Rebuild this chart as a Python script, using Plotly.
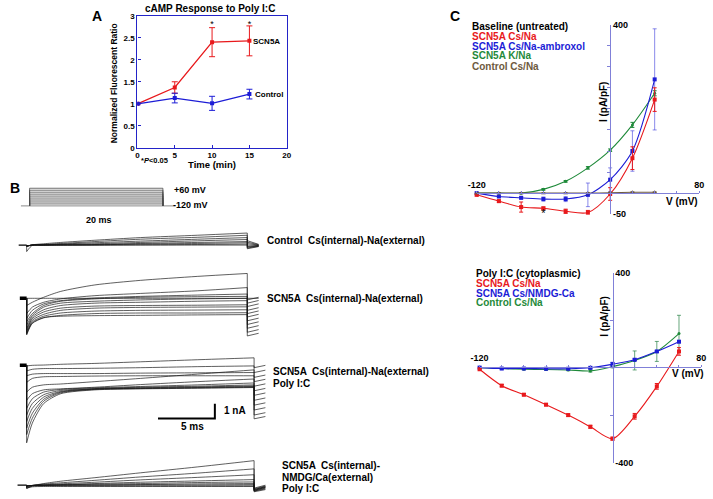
import plotly.graph_objects as go

W, H = 713, 499


def px(x):
    return x / W


def py(y):
    return 1 - y / H


# ---------------- Panel A: cAMP response ----------------
A_TIME = [0, 5, 10, 15]
A_SCN5A = [1.0, 1.37, 2.40, 2.43]
A_SCN5A_ERR = [0.02, 0.13, 0.33, 0.34]
A_CONTROL = [1.0, 1.13, 1.01, 1.22]
A_CONTROL_ERR = [0.02, 0.11, 0.16, 0.11]
A_SIG_TIME = [10, 15]
A_SIG_Y = [2.8, 2.8]

# ---------------- Panel C top: I-V ----------------
C1_V = [-120, -100, -80, -60, -40, -20, 0, 20, 40]
C1_SCN5A = [-4, -19, -33, -36, -43, -46, -2, 83, 222]
C1_SCN5A_ERR = [3, 3, 12, 3, 5, 5, 15, 27, 28]
C1_AMBROXOL = [0, -8, -11, -14, -14, -4, 32, 100, 270]
C1_AMBROXOL_ERR = [2, 2, 3, 5, 6, 28, 28, 48, 120]
C1_KNA = [0, 0, 0, 9, 28, 60, 102, 162, 237]
C1_KNA_ERR = [1, 1, 1, 2, 2, 3, 3, 6, 6]
C1_CONTROL = [0, 0, 0, 0, 0, 0, 1, 2, 2]
C1_CONTROL_ERR = [1, 1, 1, 1, 1, 1, 1, 1, 1]
C1_SIG_V = [-60, -40, -20]
C1_SIG_Y = [-50, -60, -64]

# ---------------- Panel C bottom: I-V after Poly I:C ----------------
C2_V = [-120, -100, -80, -60, -40, -20, 0, 20, 40, 60]
C2_SCN5A = [-7, -76, -114, -156, -200, -249, -299, -205, -79, 68]
C2_SCN5A_ERR = [3, 5, 5, 5, 5, 6, 6, 12, 12, 16]
C2_NMDG = [0, -4, -4, -5, -5, -1, 14, 33, 68, 109]
C2_NMDG_ERR = [2, 2, 2, 2, 2, 3, 8, 4, 4, 4]
C2_CONTROL = [0, -4, -7, -8, -10, -14, 4, 30, 68, 143]
C2_CONTROL_ERR = [2, 2, 2, 2, 3, 5, 5, 40, 42, 77]

# ---------------- Panel B: voltage protocol ----------------
B_PROTO_HOLD = -120
B_PROTO_LEVELS = [-100, -80, -60, -40, -20, 0, 20, 40, 60]
B_PROTO_T = [-1.3, 0, 20, 21.9]

# ---------------- Panel B: current traces (ms, nA) ----------------
B_CTRL_T = [0, 0.5, 1.5, 3, 6, 10, 15, 19.4]
B_CTRL_I = [
    [-0.07, 0.02, 0.09, 0.18, 0.33, 0.51, 0.67, 0.82],
    [-0.07, 0.00, 0.04, 0.11, 0.24, 0.40, 0.53, 0.67],
    [-0.07, 0.00, 0.02, 0.07, 0.16, 0.27, 0.40, 0.51],
    [-0.07, 0.00, 0.00, 0.04, 0.09, 0.18, 0.29, 0.38],
    [-0.07, 0.00, 0.00, 0.02, 0.04, 0.11, 0.18, 0.24],
    [-0.07, 0.00, 0.00, 0.00, 0.02, 0.07, 0.11, 0.16],
    [-0.07, 0.00, 0.00, 0.00, 0.00, 0.02, 0.04, 0.07],
    [-0.44, -0.02, 0.00, 0.00, 0.00, 0.00, 0.00, 0.00],
]
B_CTRL_TAIL = [[0.3, 0.05], [0.2, 0.02], [0.1, 0.0], [0.0, -0.03],
               [-0.1, -0.05], [-0.15, -0.05], [-0.2, -0.08], [-0.25, -0.1]]

B_NA_T = [0, 0.5, 1.5, 3, 6, 10, 15, 19.4]
B_NA_I = [
    [0.00, 0.00, 0.00, 0.00, 0.00, 0.00, 0.00, 0.00],
    [-0.49, -0.27, 0.07, 0.47, 0.91, 1.22, 1.49, 1.69],
    [-1.04, -0.60, -0.27, -0.04, 0.18, 0.33, 0.51, 0.73],
    [-1.38, -0.82, -0.38, -0.16, 0.02, 0.13, 0.22, 0.29],
    [-1.60, -1.04, -0.49, -0.20, -0.04, 0.07, 0.11, 0.13],
    [-1.82, -1.16, -0.60, -0.33, -0.20, -0.11, -0.04, 0.00],
    [-2.04, -1.27, -0.78, -0.49, -0.33, -0.27, -0.20, -0.16],
    [-2.16, -1.38, -0.93, -0.67, -0.53, -0.49, -0.47, -0.44],
    [-2.27, -1.49, -1.09, -0.82, -0.67, -0.62, -0.60, -0.58],
    [-2.38, -1.60, -1.22, -1.00, -0.87, -0.82, -0.80, -0.78],
    [-2.49, -1.71, -1.33, -1.16, -1.04, -1.00, -1.00, -0.98],
    [-2.42, -1.67, -1.31, -1.22, -1.18, -1.16, -1.13, -1.11],
]
B_NA_TAIL = [[0, 0], [-0.11, 0.07], [-0.33, -0.15], [-0.56, -0.38], [-0.82, -0.64],
             [-1.04, -0.86], [-1.27, -1.09], [-1.53, -1.35], [-1.78, -1.6],
             [-2.04, -1.86], [-2.31, -2.13], [-2.56, -2.38]]

B_PIC_T = [0, 0.5, 1.5, 3, 6, 10, 15, 20]
B_PIC_I = [
    [-0.04, 0.00, 0.02, 0.07, 0.13, 0.24, 0.38, 0.51],
    [-0.38, -0.27, -0.22, -0.22, -0.20, -0.16, -0.09, -0.04],
    [-0.71, -0.60, -0.56, -0.56, -0.56, -0.53, -0.51, -0.49],
    [-1.16, -0.89, -0.78, -0.76, -0.73, -0.71, -0.71, -0.71],
    [-1.82, -1.49, -1.33, -1.27, -1.11, -0.89, -0.60, -0.31],
    [-2.38, -1.93, -1.67, -1.60, -1.49, -1.31, -1.11, -0.93],
    [-2.93, -2.27, -1.82, -1.64, -1.53, -1.44, -1.33, -1.20],
    [-3.38, -2.60, -2.00, -1.71, -1.58, -1.49, -1.42, -1.33],
    [-3.82, -2.93, -2.16, -1.78, -1.60, -1.53, -1.47, -1.40],
    [-4.27, -3.27, -2.31, -1.82, -1.62, -1.56, -1.51, -1.44],
    [-4.71, -3.60, -2.44, -1.87, -1.64, -1.58, -1.53, -1.49],
    [-5.27, -3.93, -2.60, -1.93, -1.67, -1.60, -1.56, -1.51],
]
B_PIC_TAIL = [[-0.16, 0.0], [-0.49, -0.33], [-0.82, -0.66], [-1.11, -0.95],
              [-1.42, -1.26], [-1.73, -1.57], [-2.04, -1.88], [-2.38, -2.22],
              [-2.71, -2.55], [-3.04, -2.88], [-3.38, -3.22], [-3.64, -3.48]]

B_NMDG_T = [0, 0.5, 1.5, 3, 6, 10, 15, 20]
B_NMDG_I = [
    [-0.04, -0.02, 0.11, 0.27, 0.51, 0.84, 1.24, 1.67],
    [-0.04, -0.02, 0.07, 0.16, 0.33, 0.56, 0.82, 1.11],
    [-0.04, -0.02, 0.02, 0.09, 0.20, 0.36, 0.53, 0.71],
    [-0.04, -0.02, 0.00, 0.04, 0.11, 0.20, 0.29, 0.38],
    [-0.11, -0.02, 0.00, 0.02, 0.07, 0.11, 0.18, 0.22],
    [-0.11, -0.02, 0.00, 0.00, 0.02, 0.04, 0.09, 0.11],
    [-0.20, -0.04, -0.02, 0.00, 0.00, 0.02, 0.02, 0.04],
    [-0.22, -0.07, -0.04, -0.04, -0.04, -0.04, -0.04, -0.04],
    [-0.20, -0.11, -0.09, -0.09, -0.09, -0.09, -0.09, -0.09],
]
B_NMDG_TAIL = [[-0.2, 0.0], [-0.25, -0.05], [-0.3, -0.1], [-0.3, -0.1], [-0.35, -0.15],
               [-0.35, -0.15], [-0.4, -0.2], [-0.4, -0.25], [-0.45, -0.3]]

B_SCALE_MS = 5
B_SCALE_NA = 1

# ---------------- colours ----------------
RED = "#e8191c"
BLUE = "#1c1cd6"
GREEN = "#1f8a3a"
BROWN = "#6e5a40"
AXIS_A = "#2323c8"
AXIS_C = "#8080d8"
TRACE = "rgba(20,20,20,0.85)"
FONT = "Liberation Sans, Arial, sans-serif"

fig = go.Figure()

# ---------- Panel A ----------
fig.add_trace(go.Scatter(
    x=A_TIME, y=A_SCN5A, mode="lines+markers", xaxis="x", yaxis="y",
    line=dict(color=RED, width=1.3), marker=dict(color=RED, size=4, symbol="square"),
    error_y=dict(type="data", array=A_SCN5A_ERR, color=RED, thickness=1, width=3)))
fig.add_trace(go.Scatter(
    x=A_TIME, y=A_CONTROL, mode="lines+markers", xaxis="x", yaxis="y",
    line=dict(color=BLUE, width=1.3), marker=dict(color=BLUE, size=4, symbol="square"),
    error_y=dict(type="data", array=A_CONTROL_ERR, color=BLUE, thickness=1, width=3)))
fig.add_trace(go.Scatter(
    x=A_SIG_TIME, y=A_SIG_Y, mode="text", text=["*"] * len(A_SIG_TIME), xaxis="x", yaxis="y",
    textfont=dict(size=9, color="black", family=FONT), cliponaxis=False))


# ---------- Panel C helpers ----------
def iv_trace(xv, yv, err, color, symbol, size, xa, ya, err_color=None):
    return go.Scatter(
        x=xv, y=yv, mode="lines+markers", xaxis=xa, yaxis=ya, cliponaxis=False,
        line=dict(color=color, width=1.1, shape="spline", smoothing=0.8),
        marker=dict(color=color, size=size, symbol=symbol),
        error_y=dict(type="data", array=err, color=err_color or color, thickness=1, width=2))


fig.add_trace(iv_trace(C1_V, C1_KNA, C1_KNA_ERR, GREEN, "circle", 3, "x2", "y2"))
fig.add_trace(iv_trace(C1_V, C1_AMBROXOL, C1_AMBROXOL_ERR, BLUE, "square", 4, "x2", "y2",
                       err_color="rgba(60,60,220,0.6)"))
fig.add_trace(iv_trace(C1_V, C1_SCN5A, C1_SCN5A_ERR, RED, "square", 4, "x2", "y2"))
fig.add_trace(iv_trace(C1_V, C1_CONTROL, C1_CONTROL_ERR, BROWN, "triangle-up", 4, "x2", "y2"))
fig.add_trace(go.Scatter(
    x=C1_SIG_V, y=C1_SIG_Y, mode="text", text=["*"] * len(C1_SIG_V), xaxis="x2", yaxis="y2",
    textfont=dict(size=11, color="black", family=FONT), cliponaxis=False))

fig.add_trace(iv_trace(C2_V, C2_CONTROL, C2_CONTROL_ERR, GREEN, "circle", 3, "x3", "y3",
                       err_color="rgba(40,130,70,0.7)"))
fig.add_trace(iv_trace(C2_V, C2_NMDG, C2_NMDG_ERR, BLUE, "square", 4, "x3", "y3"))
fig.add_trace(iv_trace(C2_V, C2_SCN5A, C2_SCN5A_ERR, RED, "square", 4, "x3", "y3"))

# ---------- Panel B: protocol ----------
t0, t_on, t_off, t1 = B_PROTO_T
fig.add_trace(go.Scatter(x=[t0, t1], y=[B_PROTO_HOLD, B_PROTO_HOLD], mode="lines",
                         xaxis="x4", yaxis="y4", line=dict(color="#8a8a8a", width=1)))
sx, sy = [], []
for lv in B_PROTO_LEVELS:
    sx += [t_on, t_on, t_off, t_off, None]
    sy += [B_PROTO_HOLD, lv, lv, B_PROTO_HOLD, None]
fig.add_trace(go.Scatter(x=sx, y=sy, mode="lines", xaxis="x4", yaxis="y4",
                         line=dict(color="#4a4a4a", width=0.8)))


# ---------- Panel B: current traces ----------
def add_group(t, curves, tails, xa, ya, hold_t, hold_w, tail_dt=1.0):
    cx, cy, ex, ey = [], [], [], []
    t_end = t[-1]
    for c, (ta, tb) in zip(curves, tails):
        cx += list(t) + [None]
        cy += list(c) + [None]
        ex += [0, 0, None, t_end, t_end, t_end + tail_dt, None]
        ey += [0, c[0], None, c[-1], ta, tb, None]
    fig.add_trace(go.Scatter(x=[hold_t, 0], y=[0, 0], mode="lines", xaxis=xa, yaxis=ya,
                             line=dict(color="black", width=hold_w)))
    fig.add_trace(go.Scatter(x=cx, y=cy, mode="lines", xaxis=xa, yaxis=ya,
                             line=dict(color=TRACE, width=0.8, shape="spline", smoothing=0.7)))
    fig.add_trace(go.Scatter(x=ex, y=ey, mode="lines", xaxis=xa, yaxis=ya,
                             line=dict(color=TRACE, width=0.8)))


add_group(B_CTRL_T, B_CTRL_I, B_CTRL_TAIL, "x5", "y5", -0.7, 1.2)
add_group(B_NA_T, B_NA_I, B_NA_TAIL, "x6", "y6", -0.6, 3.5)
add_group(B_PIC_T, B_PIC_I, B_PIC_TAIL, "x7", "y7", -0.6, 3.5)
add_group(B_NMDG_T, B_NMDG_I, B_NMDG_TAIL, "x8", "y8", -0.8, 1.2)

# scale bar (in Poly I:C group coordinates)
sb_t0, sb_y0 = 11.55, -3.62
fig.add_trace(go.Scatter(
    x=[sb_t0, sb_t0 + B_SCALE_MS, sb_t0 + B_SCALE_MS],
    y=[sb_y0, sb_y0, sb_y0 + B_SCALE_NA], mode="lines", xaxis="x7", yaxis="y7",
    line=dict(color="black", width=2)))

# ---------- axes ----------
hidden = dict(visible=False, showgrid=False, zeroline=False)
B_X = dict(hidden, domain=[0, px(262)], range=[-18 / 11.6, (262 - 18) / 11.6])


def b_y(top, bottom, base):
    return dict(hidden, domain=[py(bottom), py(top)],
                range=[-(bottom - base) / 15, (base - top) / 15])


tickA = dict(size=8, family=FONT, color="black", weight="bold")
tickC = dict(size=9, family=FONT, color="black", weight="bold")

c_xvals = list(range(-120, 81, 20))
c_xtext = ["-120"] + [""] * (len(c_xvals) - 2) + ["80"]

layout = dict(
    width=W, height=H, autosize=False,
    margin=dict(l=0, r=0, t=0, b=0, pad=0),
    paper_bgcolor="white", plot_bgcolor="rgba(0,0,0,0)",
    showlegend=False,
    font=dict(family=FONT, color="black"),
    xaxis=dict(domain=[px(131), px(283.3)], range=[0, 20], anchor="y",
               showline=True, mirror=True, linecolor=AXIS_A, linewidth=1.2,
               ticks="inside", ticklen=3, tickcolor=AXIS_A, tickvals=[0, 5, 10, 15, 20],
               tickfont=tickA, showgrid=False, zeroline=False),
    yaxis=dict(domain=[py(145.7), py(11)], range=[0, 3], anchor="x",
               showline=True, mirror=True, linecolor=AXIS_A, linewidth=1.2,
               ticks="inside", ticklen=3, tickcolor=AXIS_A, tickvals=[0, 0.5, 1, 1.5, 2, 2.5, 3],
               tickfont=tickA, showgrid=False, zeroline=False),
    xaxis2=dict(domain=[px(477), px(704)], range=[-120, 80], anchor="free", position=py(192),
                side="top", showline=True, linecolor=AXIS_C, linewidth=1,
                ticks="outside", ticklen=2, tickcolor=AXIS_C, tickvals=c_xvals, ticktext=c_xtext,
                tickfont=tickC, showgrid=False, zeroline=False),
    yaxis2=dict(domain=[py(213.5), py(20)], range=[-50, 400], anchor="free", position=px(613.2),
                side="right", showline=True, linecolor=AXIS_C, linewidth=1,
                ticks="inside", ticklen=3, tickcolor=AXIS_C, tickvals=list(range(-50, 401, 50)),
                ticktext=["-50"] + [""] * 8 + ["400"], tickfont=tickC,
                showgrid=False, zeroline=False),
    xaxis3=dict(domain=[px(480), px(706)], range=[-120, 80], anchor="free", position=py(369.5),
                side="top", showline=True, linecolor=AXIS_C, linewidth=1,
                ticks="outside", ticklen=2, tickcolor=AXIS_C, tickvals=c_xvals, ticktext=c_xtext,
                tickfont=tickC, showgrid=False, zeroline=False),
    yaxis3=dict(domain=[py(467), py(273)], range=[-400, 400], anchor="free", position=px(615.6),
                side="right", showline=True, linecolor=AXIS_C, linewidth=1,
                ticks="inside", ticklen=3, tickcolor=AXIS_C, tickvals=[-400, -200, 0, 200, 400],
                ticktext=["-400", "", "", "", "400"], tickfont=tickC,
                showgrid=False, zeroline=False),
    xaxis4=dict(hidden, domain=[0, px(200)], range=[-21 / 6.8, (200 - 21) / 6.8], anchor="y4"),
    yaxis4=dict(hidden, domain=[py(210), py(180)], range=[-170, 130], anchor="x4"),
    xaxis5=dict(B_X, anchor="y5"), yaxis5=dict(b_y(222, 262, 245), anchor="x5"),
    xaxis6=dict(B_X, anchor="y6"), yaxis6=dict(b_y(268, 346, 299.3), anchor="x6"),
    xaxis7=dict(B_X, anchor="y7"), yaxis7=dict(b_y(350, 455, 367.7), anchor="x7"),
    xaxis8=dict(B_X, anchor="y8"), yaxis8=dict(b_y(455, 499, 490), anchor="x8"),
)
fig.update_layout(**layout)


def note(x, y, text, size=10, color="black", xanchor="left", angle=0):
    fig.add_annotation(x=px(x), y=py(y), xref="paper", yref="paper", text=text,
                       showarrow=False, xanchor=xanchor, yanchor="middle", textangle=angle,
                       borderpad=0, font=dict(size=size, color=color, family=FONT))


# panel letters
note(90, 11, "<b>A</b>", 14, xanchor="center")
note(6, 187, "<b>B</b>", 14, xanchor="center")
note(455, 11, "<b>C</b>", 14, xanchor="center")

# panel A texts
note(205, 4, "<b>cAMP Response to Poly I:C</b>", 10, xanchor="center")
note(107, 80, "<b>Normalized Fluorescent Ratio</b>", 8.5, xanchor="center", angle=-90)
note(207, 163, "<b>Time (min)</b>", 9.5, xanchor="center")
note(134, 159, "<b>*<i>P</i><0.05</b>", 7.5)
note(248, 37, "<b>SCN5A</b>", 8)
note(250, 91, "<b>Control</b>", 8)

# panel B texts
note(167, 189, "<b>+60 mV</b>", 9)
note(166, 204, "<b>-120 mV</b>", 9)
note(92, 219, "<b>20 ms</b>", 9, xanchor="center")
note(262, 240, "<b>Control  Cs(internal)-Na(external)</b>", 10)
note(262, 299, "<b>SCN5A  Cs(internal)-Na(external)</b>", 10)
note(268, 374, "<b>SCN5A  Cs(internal)-Na(external)</b>", 10)
note(268, 386, "<b>Poly I:C</b>", 10)
note(218, 414, "<b>1 nA</b>", 10)
note(187, 430, "<b>5 ms</b>", 10, xanchor="center")
note(277, 470, "<b>SCN5A  Cs(internal)-</b>", 10)
note(277, 482, "<b>NMDG/Ca(external)</b>", 10)
note(277, 493, "<b>Poly I:C</b>", 10)

# panel C texts (top)
note(471, 22, "<b>Baseline (untreated)</b>", 10)
note(471, 32, "<b>SCN5A Cs/Na</b>", 10, RED)
note(471, 42, "<b>SCN5A Cs/Na-ambroxol</b>", 10, BLUE)
note(471, 52, "<b>SCN5A K/Na</b>", 10, GREEN)
note(471, 63, "<b>Control Cs/Na</b>", 10, BROWN)
note(606, 99, "<b>I (pA/pF)</b>", 10, xanchor="center", angle=-90)
note(686, 201, "<b>V (mV)</b>", 10, xanchor="center")

# panel C texts (bottom)
note(475, 274, "<b>Poly I:C (cytoplasmic)</b>", 10)
note(475, 284, "<b>SCN5A Cs/Na</b>", 10, RED)
note(475, 294, "<b>SCN5A Cs/NMDG-Ca</b>", 10, BLUE)
note(475, 304, "<b>Control Cs/Na</b>", 10, GREEN)
note(608, 318, "<b>I (pA/pF)</b>", 10, xanchor="center", angle=-90)
note(693, 376, "<b>V (mV)</b>", 10, xanchor="center")

fig.write_html("out.html", config={"displayModeBar": False},
               post_script="document.body.style.margin='0';document.body.style.overflow='hidden';")
